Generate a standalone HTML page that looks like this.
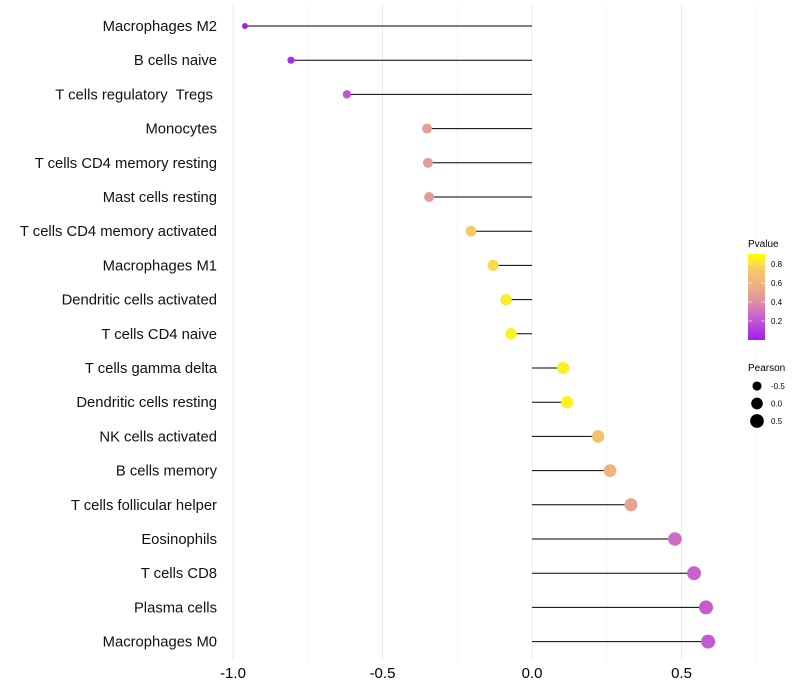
<!DOCTYPE html>
<html><head><meta charset="utf-8"><style>
body{margin:0;background:#fff;}
svg{display:block;font-family:"Liberation Sans",sans-serif;}
text{white-space:pre;}
</style></head><body>
<svg id="chart" width="800" height="700"></svg>
<script>
const categories=["Macrophages M2","B cells naive","T cells regulatory  Tregs ","Monocytes","T cells CD4 memory resting","Mast cells resting","T cells CD4 memory activated","Macrophages M1","Dendritic cells activated","T cells CD4 naive","T cells gamma delta","Dendritic cells resting","NK cells activated","B cells memory","T cells follicular helper","Eosinophils","T cells CD8","Plasma cells","Macrophages M0"];
const pearson=[-0.96,-0.806,-0.619,-0.351,-0.348,-0.344,-0.204,-0.130,-0.087,-0.070,0.104,0.117,0.221,0.261,0.331,0.478,0.542,0.582,0.589];
const pvalues=[0.0,0.04,0.2,0.47,0.47,0.47,0.72,0.82,0.9,0.93,0.93,0.93,0.68,0.6,0.5,0.28,0.24,0.22,0.22];
const xTicks=[-1.0,-0.5,0.0,0.5];
const xTickLabels=["-1.0","-0.5","0.0","0.5"];
const pTicks=[0.2,0.4,0.6,0.8];
const sizeLegend=[-0.5,0.0,0.5];

const NS="http://www.w3.org/2000/svg";
const svg=document.getElementById("chart");
function mk(t,a,p){const e=document.createElementNS(NS,t);for(const k in a)e.setAttribute(k,a[k]);(p||svg).appendChild(e);return e;}
const xScale=v=>532+(v)*299;
const yScale=i=>26+i*34.2;
const rScale=v=>Math.sqrt(Math.max(1,26*(v+1.3)));
const stops=[[0,[160,32,240]],[0.25,[200,100,205]],[0.4,[222,140,165]],[0.5,[234,163,143]],[0.75,[246,205,100]],[1,[255,255,0]]];
function color(p){p=Math.max(0,Math.min(1,p));for(let i=1;i<stops.length;i++){if(p<=stops[i][0]){const a=stops[i-1],b=stops[i],t=(p-a[0])/(b[0]-a[0]);const c=a[1].map((v,k)=>Math.round(v+(b[1][k]-v)*t));return `rgb(${c})`;}}return "rgb(255,255,0)";}

for(let v=-1;v<=0.76;v+=0.25){const major=Math.abs(v*2-Math.round(v*2))<1e-6;const g=mk("line",{x1:xScale(v),x2:xScale(v),y1:5,y2:660,stroke:major?"#ebebeb":"#f3f3f3","stroke-width":1});

}
xTicks.forEach((v,i)=>{const t=mk("text",{x:xScale(v),y:678,"text-anchor":"middle","font-size":15,fill:"#000"});t.textContent=xTickLabels[i];

});
categories.forEach((c,i)=>{
 const y=yScale(i);
 const t=mk("text",{x:217,y:y+5,"text-anchor":"end","font-size":14.8,fill:"#111"});t.textContent=c;
 
 
 const l=mk("line",{x1:xScale(0),x2:xScale(pearson[i]),y1:y,y2:y,stroke:"#000","stroke-width":1});
 
 
 const d=mk("circle",{cx:xScale(pearson[i]),cy:y,r:rScale(pearson[i]),fill:color(pvalues[i])});
 
 
});
const lg=mk("g",{});


const tt=mk("text",{x:748,y:247,"font-size":10},lg);tt.textContent="Pvalue";
const defs=mk("defs",{});const gr=mk("linearGradient",{id:"pg",x1:0,y1:1,x2:0,y2:0},defs);
stops.forEach(s=>mk("stop",{offset:Math.min(1,s[0]/0.905),"stop-color":`rgb(${s[1]})`},gr));
mk("rect",{x:748,y:254,width:17,height:86,fill:"url(#pg)"},lg);
const pY=p=>340-p*95;
pTicks.forEach(p=>{mk("line",{x1:748,x2:752,y1:pY(p),y2:pY(p),stroke:"#fff","stroke-width":0.6},lg);mk("line",{x1:761,x2:765,y1:pY(p),y2:pY(p),stroke:"#fff","stroke-width":0.6},lg);
const t=mk("text",{x:771,y:pY(p)+3,"font-size":8},lg);t.textContent=p.toFixed(1);});
const sg=mk("g",{});


const st=mk("text",{x:748,y:371,"font-size":10},sg);st.textContent="Pearson";
sizeLegend.forEach((v,i)=>{const y=386+i*17.5;mk("circle",{cx:757,cy:y,r:rScale(v),fill:"#000"},sg);const t=mk("text",{x:771,y:y+3,"font-size":8},sg);t.textContent=v.toFixed(1);});
</script>
</body></html>
